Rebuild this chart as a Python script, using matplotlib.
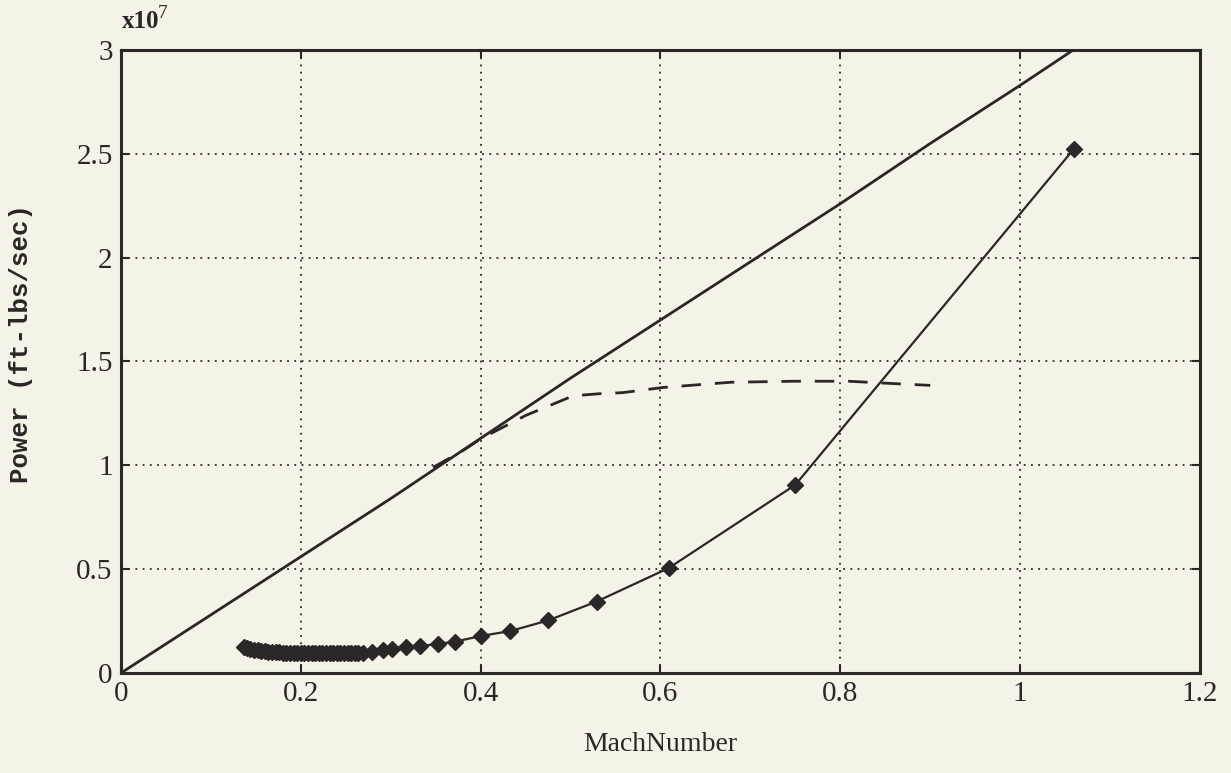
import matplotlib
matplotlib.use("Agg")
import matplotlib.pyplot as plt
import numpy as np

# upper solid line (max power available)
mach_avail = [0.0, 0.1, 0.2, 0.3, 0.4, 0.5, 0.6, 0.7, 0.8, 0.9, 1.0, 1.059]
power_avail = [0.0, 0.28, 0.56, 0.84, 1.13, 1.42, 1.70, 1.98, 2.26, 2.55, 2.83, 3.00]

# dashed line
mach_dash = [0.347, 0.38, 0.401, 0.45, 0.503, 0.533, 0.558, 0.603, 0.633, 0.678, 0.75, 0.809, 0.853, 0.90]
power_dash = [0.99, 1.07, 1.13, 1.24, 1.335, 1.345, 1.35, 1.375, 1.385, 1.40, 1.405, 1.405, 1.395, 1.385]

# lower curve with markers (power required)
mach_req = [0.137, 0.140, 0.144, 0.148, 0.152, 0.156, 0.160, 0.164, 0.168, 0.172,
            0.176, 0.180, 0.184, 0.188, 0.192, 0.196, 0.200, 0.204, 0.208, 0.212,
            0.216, 0.220, 0.224, 0.228, 0.232, 0.236, 0.240, 0.244, 0.248, 0.252,
            0.256, 0.260, 0.264, 0.269, 0.279, 0.291, 0.301, 0.317, 0.333, 0.352,
            0.372, 0.400, 0.433, 0.475, 0.529, 0.609, 0.750, 1.060]
power_req = [0.125, 0.121, 0.117, 0.113, 0.110, 0.107, 0.105, 0.103, 0.101, 0.100,
             0.099, 0.098, 0.097, 0.097, 0.097, 0.096, 0.096, 0.096, 0.096, 0.096,
             0.096, 0.096, 0.096, 0.096, 0.096, 0.096, 0.096, 0.096, 0.096, 0.096,
             0.096, 0.096, 0.097, 0.097, 0.100, 0.112, 0.116, 0.127, 0.129, 0.140,
             0.151, 0.178, 0.202, 0.253, 0.344, 0.505, 0.906, 2.525]

x_ticks = [0, 0.2, 0.4, 0.6, 0.8, 1, 1.2]
x_labels = ["0", "0.2", "0.4", "0.6", "0.8", "1", "1.2"]
y_ticks = [0, 0.5, 1, 1.5, 2, 2.5, 3]
y_labels = ["0", "0.5", "1", "1.5", "2", "2.5", "3"]

bg = "#f4f3e7"
ink = "#2b2726"

fig = plt.figure(figsize=(12.31, 7.73), dpi=100, facecolor=bg)
ax = fig.add_axes([0.0983, 0.1294, 0.8765, 0.8059], facecolor=bg)

ax.plot(mach_avail, power_avail, color=ink, lw=2.0)
ax.plot(mach_dash, power_dash, color=ink, lw=2.0, ls=(0, (7, 5)))
ax.plot(mach_req, power_req, color=ink, lw=1.6, marker="D", markersize=8,
        markeredgecolor=ink, markerfacecolor=ink)

ax.set_xlim(0, 1.2)
ax.set_ylim(0, 3)
ax.set_xticks(x_ticks)
ax.set_xticklabels(x_labels)
ax.set_yticks(y_ticks)
ax.set_yticklabels(y_labels)

ax.grid(True, color=ink, ls=(0, (1, 3)), lw=1.3)
ax.tick_params(direction="in", length=6, width=1.5, colors=ink, top=True, right=True,
               labelsize=21, pad=6)
for lab in ax.get_xticklabels() + ax.get_yticklabels():
    lab.set_family("Liberation Serif")
    lab.set_color(ink)
for s in ax.spines.values():
    s.set_color(ink)
    s.set_linewidth(2.2)

fig.text(0.536, 0.037, "MachNumber", ha="center", va="center", fontsize=20,
         family="Liberation Serif", color=ink)
fig.text(0.017, 0.555, "Power (ft-lbs/sec)", ha="center", va="center", rotation=90,
         fontsize=18.5, family="Liberation Mono", weight="bold", color=ink)
fig.text(0.099, 0.972, "x10", ha="left", va="center", fontsize=18,
         family="Liberation Serif", weight="bold", color=ink)
fig.text(0.128, 0.983, "7", ha="left", va="center", fontsize=14,
         family="Liberation Serif", color=ink)

fig.savefig("out.png", dpi=100, facecolor=bg)
